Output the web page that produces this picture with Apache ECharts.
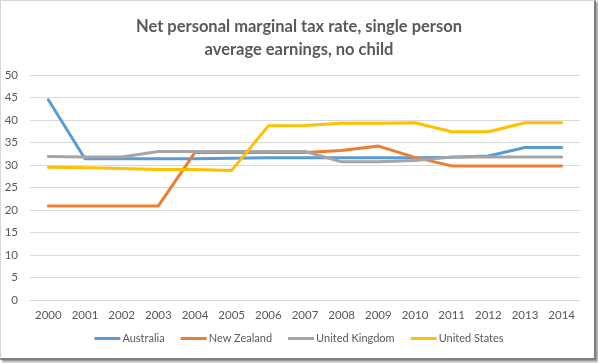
<!DOCTYPE html>
<html>
<head>
<meta charset="utf-8">
<script src="https://cdn.jsdelivr.net/npm/echarts@6/dist/echarts.min.js"></script>
<style>
html,body{margin:0;padding:0;background:#fff;}
#frame{position:absolute;left:0;top:0;width:593px;height:357px;border-top:1px solid #d6d6d6;border-left:1px solid #d6d6d6;border-right:2px solid #7f7f7f;border-bottom:2px solid #7f7f7f;box-shadow:2px 2px 2px #9a9a9a;background:#fff;}
#chart{position:absolute;left:0;top:0;width:598px;height:363px;}
</style>
</head>
<body>
<div id="frame"></div>
<div id="chart"></div>
<script>
const years = ['2000','2001','2002','2003','2004','2005','2006','2007','2008','2009','2010','2011','2012','2013','2014'];
const australia = [44.5,31.4,31.4,31.4,31.4,31.5,31.6,31.6,31.6,31.6,31.6,31.7,32.0,33.9,33.9];
const newZealand = [20.9,20.9,20.9,20.9,32.8,32.8,32.8,32.8,33.2,34.2,31.7,29.8,29.8,29.8,29.8];
const unitedKingdom = [31.9,31.8,31.8,33.0,33.0,33.0,33.0,33.0,30.7,30.7,31.0,31.8,31.8,31.8,31.8];
const unitedStates = [29.5,29.4,29.2,29.0,29.0,28.8,38.7,38.8,39.3,39.3,39.4,37.4,37.4,39.4,39.4];
const yTicks = {min:0, max:50, interval:5};

const chart = echarts.init(document.getElementById('chart'), null, {renderer:'canvas'});
const txt = '#595959';
const font = 'Lato, "Open Sans", sans-serif';
function s(name, data, color){
  return {name, type:'line', data, symbol:'none', smooth:false,
    lineStyle:{width:3, color, cap:'round', join:'round'}, itemStyle:{color}};
}
chart.setOption({
  animation:false,
  textStyle:{fontFamily:font},
  title:{text:'Net personal marginal tax rate, single person\naverage earnings, no child', left:'center', top:10,
    textStyle:{fontSize:16.5, fontWeight:'bold', color:txt, lineHeight:23, fontFamily:font}},
  grid:{left:30, right:18, top:75, bottom:63, containLabel:false},
  xAxis:{type:'category', data:years, boundaryGap:true,
    axisLine:{lineStyle:{color:'#d9d9d9'}}, axisTick:{show:false},
    axisLabel:{color:txt, fontSize:11.5, margin:9}},
  yAxis:{type:'value', min:yTicks.min, max:yTicks.max, interval:yTicks.interval,
    axisLine:{show:false}, axisTick:{show:false},
    axisLabel:{color:txt, fontSize:11.5, margin:12},
    splitLine:{lineStyle:{color:'#d9d9d9'}}},
  legend:{bottom:14, left:'center', icon:'rect', itemWidth:26, itemHeight:3, itemGap:16,
    textStyle:{color:txt, fontSize:11, padding:[0,0,0,-3]},
    data:['Australia','New Zealand','United Kingdom','United States']},
  series:[
    s('Australia', australia, '#5B9BD5'),
    s('New Zealand', newZealand, '#ED7D31'),
    s('United Kingdom', unitedKingdom, '#A5A5A5'),
    s('United States', unitedStates, '#FFC000')
  ]
});
</script>
</body>
</html>
